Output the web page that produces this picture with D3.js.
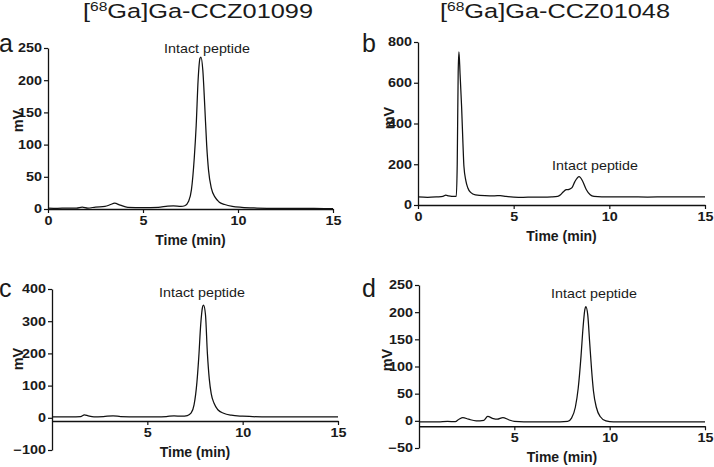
<!DOCTYPE html>
<html>
<head>
<meta charset="utf-8">
<script src="https://cdn.jsdelivr.net/npm/d3@7/dist/d3.min.js"></script>
<style>
  html, body { margin: 0; padding: 0; background: #fff; }
  svg { display: block; font-family: "Liberation Sans", Arial, sans-serif; }
</style>
</head>
<body>
<div id="chart"></div>
<script>
// chromatogram traces (time in min, signal in mV)
const timeA = [0, 0.5, 1, 1.5, 1.8, 2.1, 2.5, 3.0, 3.3, 3.5, 3.8, 4.2, 5, 5.8, 6.3, 6.6, 7.0, 7.2, 7.4, 7.55, 7.7, 7.8, 7.9, 8.0, 8.05, 8.15, 8.25, 8.35, 8.45, 8.6, 8.8, 9.0, 9.3, 9.7, 10.2, 11, 12, 13, 14, 15];
const mvA   = [1.5, 1, 1.5, 1.5, 3, 1.5, 3, 4, 7, 9, 6, 2.5, 2, 2.5, 4.5, 5, 4, 5, 12, 30, 80, 130, 200, 234, 236, 215, 160, 100, 60, 32, 18, 11, 7, 4, 2.5, 1.5, 1, 1, 0.8, 0.5];

const timeB = [0, 0.5, 1.0, 1.3, 1.45, 1.6, 1.9, 2.0, 2.05, 2.1, 2.14, 2.2, 2.28, 2.35, 2.4, 2.5, 2.6, 2.75, 3.0, 3.5, 4.0, 4.3, 4.6, 5, 5.5, 6, 6.5, 7.0, 7.3, 7.45, 7.6, 7.75, 7.9, 8.05, 8.2, 8.42, 8.6, 8.8, 9.0, 9.2, 9.6, 10, 11, 12, 13, 14, 15];
const mvB   = [40, 38, 40, 42, 48, 45, 42, 42, 200, 650, 752, 640, 480, 300, 190, 120, 85, 62, 50, 46, 45, 46, 42, 39, 38, 39, 39, 40, 42, 50, 65, 75, 77, 85, 115, 139, 118, 75, 50, 42, 40, 40, 40, 39, 40, 40, 40];

const timeC = [0, 0.5, 1.0, 1.5, 1.7, 1.9, 2.2, 2.7, 3.2, 3.6, 4.5, 5.5, 6.0, 6.4, 6.8, 7.1, 7.3, 7.45, 7.6, 7.7, 7.8, 7.9, 7.95, 8.05, 8.15, 8.25, 8.35, 8.5, 8.7, 9.0, 9.4, 10, 11, 12, 13, 14, 15];
const mvC   = [3, 3, 3, 4, 9, 6, 3, 4, 6, 4, 3, 3, 4, 6, 5, 7, 15, 40, 110, 190, 290, 345, 350, 320, 200, 120, 75, 45, 25, 14, 8, 5, 3, 3, 3, 3, 3];

const timeD = [0, 1, 1.5, 1.9, 2.1, 2.3, 2.6, 3.0, 3.4, 3.6, 3.9, 4.1, 4.4, 4.7, 5, 6, 7, 7.8, 8.0, 8.2, 8.35, 8.5, 8.6, 8.7, 8.75, 8.85, 8.95, 9.05, 9.15, 9.3, 9.5, 9.8, 10.2, 11, 15];
const mvD   = [-2, -2, -1, -1.5, 3, 6, 3, 0, 1, 8, 4, 3, 6, 2, -1, -2, -2, -1, 5, 25, 60, 120, 170, 205, 210, 195, 145, 95, 55, 25, 8, 0, -2, -2, -2];

// axis ticks
const timeTicksFull = [0, 5, 10, 15];
const timeTicksNoZero = [5, 10, 15];
const mvTicksA = [0, 50, 100, 150, 200, 250];
const mvTicksB = [0, 200, 400, 600, 800];
const mvTicksC = [-100, 0, 100, 200, 300, 400];
const mvTicksD = [-50, 0, 50, 100, 150, 200, 250];

const titles = ["CCZ01099", "CCZ01048"];

const svg = d3.select("#chart").append("svg")
    .attr("width", 714)
    .attr("height", 467);

// the source figure is a little stretched sideways, so text gets a horizontal scale
const panels = [
    { letter: "a", t: timeA, v: mvA, yTicks: mvTicksA, xTicks: timeTicksFull, ydom: [0, 250], xAxisAt: 0,
      xr: [48, 333], yr: [209, 48], labelX: 207, labelY: 53, letterX: -1, letterY: 52, mvX: 23, mvY: 121 },
    { letter: "b", t: timeB, v: mvB, yTicks: mvTicksB, xTicks: timeTicksFull, ydom: [0, 800], xAxisAt: 0,
      xr: [418, 705], yr: [205, 42], labelX: 595, labelY: 170, letterX: 362, letterY: 52, mvX: 394, mvY: 118 },
    { letter: "c", t: timeC, v: mvC, yTicks: mvTicksC, xTicks: timeTicksNoZero, ydom: [-100, 400], xAxisAt: -10,
      xr: [52, 338], yr: [450, 289], labelX: 202, labelY: 297, letterX: -1, letterY: 297, mvX: 23, mvY: 359 },
    { letter: "d", t: timeD, v: mvD, yTicks: mvTicksD, xTicks: timeTicksNoZero, ydom: [-50, 250], xAxisAt: -10,
      xr: [419, 705], yr: [448, 285], labelX: 594, labelY: 298, letterX: 362, letterY: 297, mvX: 392, mvY: 360 }
];

function styleTicks(sel) {
    sel.select(".domain").attr("stroke-width", 1.3).attr("stroke", "#111");
    sel.selectAll(".tick line").attr("stroke-width", 1.2).attr("stroke", "#111");
    sel.selectAll("text").attr("font-size", 12).attr("font-weight", "bold")
        .attr("fill", "#1a1a1a").attr("font-family", "Liberation Sans, Arial, sans-serif")
        .attr("transform", "scale(1.2,1)");
}

panels.forEach(p => {
    const x = d3.scaleLinear().domain([0, 15]).range(p.xr);
    const y = d3.scaleLinear().domain(p.ydom).range(p.yr);
    const g = svg.append("g");

    g.append("g")
        .attr("transform", `translate(${p.xr[0]},0)`)
        .call(d3.axisLeft(y).tickValues(p.yTicks).tickSize(4).tickSizeOuter(0).tickPadding(1))
        .call(styleTicks);

    g.append("g")
        .attr("transform", `translate(0,${y(p.xAxisAt)})`)
        .call(d3.axisBottom(x).tickValues(p.xTicks).tickSize(4).tickSizeOuter(0).tickPadding(3))
        .call(styleTicks);

    // trace
    const line = d3.line()
        .x((d, i) => x(p.t[i]))
        .y(d => y(d))
        .curve(d3.curveMonotoneX);
    g.append("path")
        .attr("d", line(p.v))
        .attr("fill", "none")
        .attr("stroke", "#111")
        .attr("stroke-width", 1.25);

    // axis titles
    g.append("text")
        .attr("x", (p.xr[0] + p.xr[1]) / 2)
        .attr("y", y(p.xAxisAt) + 36)
        .attr("text-anchor", "middle")
        .attr("font-size", 14).attr("font-weight", "bold").attr("fill", "#1a1a1a")
        .text("Time (min)");

    g.append("text")
        .attr("transform", `translate(${p.mvX},${p.mvY}) rotate(-90)`)
        .attr("text-anchor", "middle")
        .attr("font-size", 14.5).attr("font-weight", "bold").attr("fill", "#1a1a1a")
        .text("mV");

    g.append("text")
        .attr("transform", `translate(${p.labelX},${p.labelY}) scale(1.1,1)`)
        .attr("text-anchor", "middle")
        .attr("font-size", 13).attr("fill", "#1a1a1a")
        .text("Intact peptide");

    g.append("text")
        .attr("x", p.letterX).attr("y", p.letterY)
        .attr("font-size", 25).attr("fill", "#1a1a1a")
        .text(p.letter);
});

// column titles
[[198, titles[0]], [555, titles[1]]].forEach(([cx, name]) => {
    const t = svg.append("text")
        .attr("transform", `translate(${cx},18) scale(1.3,1)`)
        .attr("text-anchor", "middle")
        .attr("font-size", 19.5).attr("fill", "#1a1a1a");
    t.append("tspan").text("[");
    t.append("tspan").attr("font-size", 12).attr("dy", -7).text("68");
    t.append("tspan").attr("dy", 7).text("Ga]Ga-" + name);
});
</script>
</body>
</html>
